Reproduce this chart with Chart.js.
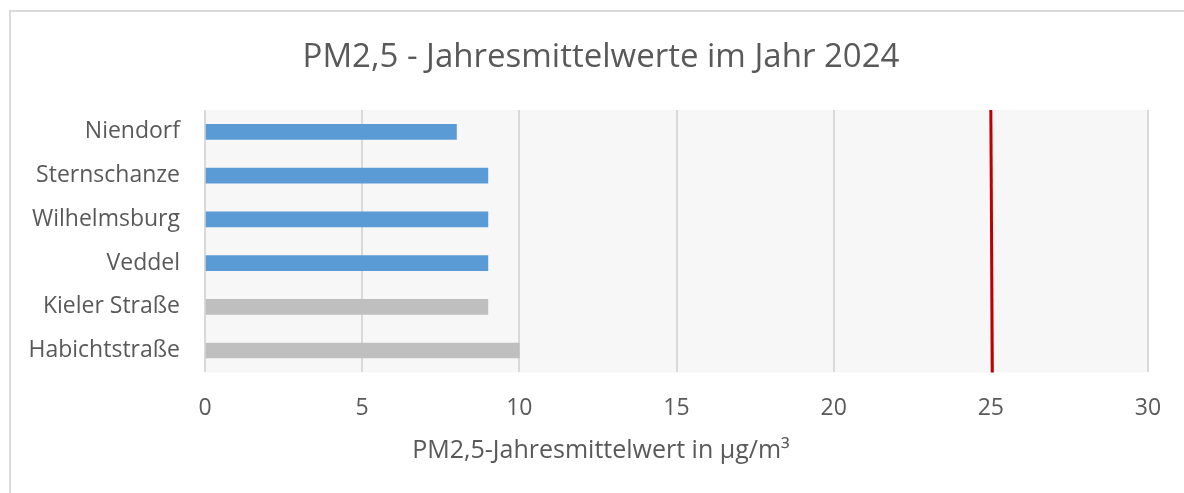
<!DOCTYPE html>
<html>
<head>
<meta charset="utf-8">
<script src="https://cdn.jsdelivr.net/npm/chart.js@4"></script>
<style>
    body { margin: 0; background: #fff; }
    #frame { position: absolute; left: 9px; top: 10px; width: 1200px; height: 500px; border-left: 2px solid #d9d9d9; border-top: 2px solid #d9d9d9; }
    #pmChart { position: absolute; left: 0; top: 0; }
</style>
</head>
<body>
<div id="frame"></div>
<canvas id="pmChart" width="1184" height="493"></canvas>
<script>
    const stations = ['Niendorf', 'Sternschanze', 'Wilhelmsburg', 'Veddel', 'Kieler Straße', 'Habichtstraße'];
    const annualMeans = [8, 9, 9, 9, 9, 10];
    const stationType = ['background', 'background', 'background', 'background', 'traffic', 'traffic'];
    const xMin = 0, xMax = 30, xStep = 5;
    const limitValue = 25;

    const typeColors = { background: '#5b9bd5', traffic: '#bfbfbf' };
    const textColor = '#595959';
    const fontFamily = '"Open Sans", sans-serif';

    // grey plot area behind the bars
    const plotBackground = {
        id: 'plotBackground',
        beforeDraw: function (chart) {
            const a = chart.chartArea;
            const ctx = chart.ctx;
            ctx.save();
            ctx.fillStyle = '#f7f7f7';
            ctx.fillRect(a.left, a.top, a.right - a.left, a.bottom - a.top);
            ctx.restore();
        }
    };

    // red limit value line
    const limitLine = {
        id: 'limitLine',
        afterDatasetsDraw: function (chart) {
            const a = chart.chartArea;
            const x = chart.scales.x.getPixelForValue(limitValue);
            const ctx = chart.ctx;
            ctx.save();
            ctx.strokeStyle = '#c00000';
            ctx.lineWidth = 3;
            ctx.beginPath();
            ctx.moveTo(x, a.top);
            ctx.lineTo(x + 1.5, a.bottom);
            ctx.stroke();
            ctx.restore();
        }
    };

    document.addEventListener('DOMContentLoaded', function () {
        const ctx = document.getElementById('pmChart').getContext('2d');

        const data = {
            labels: stations,
            datasets: [{
                label: 'PM2,5-Jahresmittelwert',
                data: annualMeans,
                backgroundColor: stationType.map(t => typeColors[t]),
                borderWidth: 0,
                barThickness: 15
            }]
        };

        const config = {
            type: 'bar',
            data: data,
            options: {
                indexAxis: 'y',
                responsive: false,
                animation: false,
                layout: {
                    padding: { left: 18, right: 0, top: 0, bottom: 0 }
                },
                scales: {
                    x: {
                        min: xMin,
                        max: xMax,
                        ticks: {
                            stepSize: xStep,
                            padding: 22,
                            color: textColor,
                            font: { family: fontFamily, size: 23 }
                        },
                        grid: { color: '#d9d9d9', lineWidth: 2, drawTicks: false },
                        border: { display: false },
                        afterFit: function (scale) { scale.height = 63.6; }
                    },
                    y: {
                        ticks: {
                            padding: 25,
                            color: textColor,
                            font: { family: fontFamily, size: 23 }
                        },
                        grid: { display: false, drawTicks: false },
                        border: { display: false },
                        afterFit: function (scale) { scale.width = 187; }
                    },
                    // empty axis only to keep space on the right
                    yRight: {
                        type: 'linear',
                        position: 'right',
                        ticks: { display: false },
                        grid: { display: false, drawTicks: false },
                        border: { display: false },
                        afterFit: function (scale) { scale.width = 36; }
                    }
                },
                plugins: {
                    title: {
                        display: true,
                        text: 'PM2,5 - Jahresmittelwerte im Jahr 2024',
                        color: textColor,
                        font: { family: fontFamily, size: 33, weight: 'normal' },
                        padding: { top: 38, bottom: 32.4 }
                    },
                    subtitle: {
                        display: true,
                        position: 'bottom',
                        text: 'PM2,5-Jahresmittelwert in µg/m³',
                        color: textColor,
                        font: { family: fontFamily, size: 25, weight: 'normal' },
                        padding: { top: 0, bottom: 27 }
                    },
                    legend: { display: false },
                    tooltip: { enabled: false }
                }
            },
            plugins: [plotBackground, limitLine]
        };

        new Chart(ctx, config);
    });
</script>
</body>
</html>
